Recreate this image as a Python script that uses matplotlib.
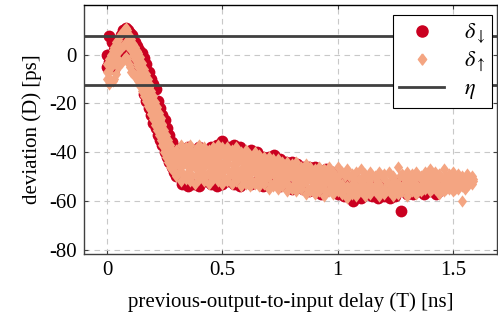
import matplotlib
matplotlib.use("Agg")
import matplotlib.pyplot as plt
from matplotlib.lines import Line2D

plt.rcParams['font.family'] = ['Liberation Serif', 'DejaVu Serif']
plt.rcParams['mathtext.fontset'] = 'stix'

red = '#ca0020'
salmon = '#f4a582'
dark = '#404040'

# delta down (red circles): start, descent, flat part
down_start_x = [0.000, 0.000, 0.010, 0.010, 0.020, 0.020, 0.030, 0.030, 0.040, 0.040,
                0.050, 0.050, 0.060, 0.060, 0.070, 0.070, 0.080, 0.080, 0.090, 0.090]
down_start_y = [-5, 0, 7.5, -3, 5, -1, 2, -6, 4, -4,
                6, -2, 8, 1, 10, 3, 11, 5, 10, 6]
down_fall_x = [0.100, 0.100, 0.110, 0.110, 0.120, 0.120, 0.130, 0.130, 0.140, 0.140,
               0.150, 0.150, 0.160, 0.160, 0.170, 0.170, 0.180, 0.180, 0.190, 0.190,
               0.200, 0.200, 0.210, 0.210, 0.220, 0.220, 0.230, 0.230, 0.240, 0.240,
               0.250, 0.250, 0.260, 0.260, 0.270, 0.270, 0.280, 0.280, 0.290, 0.290]
down_fall_y = [9, 3, 8, 1, 5, -2, 3.5, -5, 2, -8,
               0.5, -12, -1.5, -16, -4, -19, -7, -22, -10, -25,
               -12, -28, -14, -30, -19, -33, -22, -35, -25, -37,
               -27, -40, -30, -42, -33, -44, -36, -46, -38, -48]
down_flat_x = [0.300, 0.300, 0.325, 0.325, 0.350, 0.350, 0.375, 0.375, 0.400, 0.400,
               0.425, 0.425, 0.450, 0.450, 0.475, 0.475, 0.500, 0.500, 0.525, 0.525,
               0.550, 0.550, 0.575, 0.575, 0.600, 0.600, 0.625, 0.625, 0.650, 0.650,
               0.675, 0.675, 0.700, 0.700, 0.725, 0.725, 0.750, 0.750, 0.775, 0.775,
               0.800, 0.800, 0.825, 0.825, 0.850, 0.850, 0.875, 0.875, 0.900, 0.900,
               0.925, 0.925, 0.950, 0.950, 0.975, 0.975, 1.000, 1.000, 1.025, 1.025,
               1.050, 1.050, 1.065, 1.065, 1.075, 1.075, 1.100, 1.100, 1.125, 1.125,
               1.150, 1.150, 1.175, 1.175, 1.200, 1.200, 1.225, 1.225, 1.250, 1.250,
               1.275, 1.275, 1.300, 1.300, 1.325, 1.325, 1.350, 1.350, 1.375, 1.375,
               1.400, 1.400, 1.425, 1.425, 1.440, 1.440]
down_flat_y = [-40, -50, -39, -53, -38, -54, -39, -53, -38, -54,
               -39, -52, -38, -53, -37, -54, -35.5, -53, -38, -52,
               -37, -53, -38, -54, -40, -52, -39, -53, -40, -52,
               -42, -54, -42, -53, -41, -52, -43, -54, -44, -53,
               -44, -55, -45, -54, -46, -55, -46, -56, -46, -55,
               -48, -57, -47, -56, -48, -55, -48, -57, -50, -58,
               -51, -56, -52, -60, -51, -58, -52, -59, -52, -57,
               -53, -58, -53, -59, -54, -58, -54, -59, -52, -58,
               -53, -64, -53, -57, -54, -57, -54, -56, -54, -57,
               -54, -56, -54, -57, -55, -56]

# delta up (salmon diamonds): start blob
up_start_x = [0.000, 0.008, 0.016, 0.024, 0.032, 0.040, 0.048, 0.056, 0.064, 0.072,
              0.080, 0.088]
up_start_top = [-4, -2, 0, 2, 3, 5, 6, 8, 9, 10, 11, 10]
up_start_mid = [-7, -7, -5, -4, -3, -1, 1, 3, 3, 4, 5, 4]
up_start_bot = [-10, -12, -11, -11, -10, -8, -5, -3, -3, -2, -1, -2]

# descent: right edge, middle, left edge
up_fall_x = [0.096, 0.104, 0.112, 0.120, 0.128, 0.136, 0.144, 0.152, 0.160, 0.168,
             0.176, 0.184, 0.192, 0.200, 0.208, 0.216, 0.224, 0.232, 0.240, 0.248,
             0.256, 0.264, 0.272, 0.280, 0.288]
up_fall_top = [8, 6.5, 4.5, 3, 1.5, 0.5, -1, -3.5, -6, -8,
               -10, -12.5, -15, -17, -19.5, -21.5, -24, -26, -28.5, -31,
               -33, -35, -37, -39, -41]
up_fall_mid = [3.5, 2, 0, -2, -4, -5, -7, -9, -11, -13,
               -15, -17, -20, -22, -24, -26, -28, -30, -33, -35,
               -37, -39, -41, -43, -44]
up_fall_bot = [-4, -7, -8, -9, -10, -11, -13, -15, -17, -19,
               -21, -22.5, -24.5, -26.5, -29, -31, -33, -35, -37, -40,
               -42, -44, -46, -47, -48]
up_fall_x2 = [0.100, 0.108, 0.116, 0.124, 0.132, 0.140, 0.148, 0.156, 0.164, 0.172,
              0.180, 0.188, 0.196, 0.204, 0.212, 0.220, 0.228, 0.236, 0.244, 0.252,
              0.260, 0.268, 0.276, 0.284, 0.292]
up_fall_hi = [5, 3, 1.5, 0, -2, -3, -5, -7, -9.5, -11.5,
              -13.5, -16, -18.5, -20.5, -22.5, -25, -27, -29, -32, -34,
              -36, -38, -40, -41.5, -43]
up_fall_lo = [-5, -7, -8, -9, -10, -11, -11, -13, -15, -17,
              -19, -21, -23, -25.5, -27.5, -29.5, -31.5, -34, -36, -38.5,
              -40.5, -42.5, -44, -45.5, -46]

# flat part, interleaved sets of samples
up_flat_x = [0.30, 0.32, 0.34, 0.36, 0.38, 0.40, 0.42, 0.44, 0.46, 0.48,
             0.50, 0.52, 0.54, 0.56, 0.58, 0.60, 0.62, 0.64, 0.66, 0.68,
             0.70, 0.72, 0.74, 0.76, 0.78, 0.80, 0.82, 0.84, 0.86, 0.88,
             0.90, 0.92, 0.94, 0.96, 0.98, 1.00, 1.02, 1.04, 1.06, 1.08,
             1.10, 1.12, 1.14, 1.16, 1.18, 1.20, 1.22, 1.24, 1.26, 1.28,
             1.30, 1.32, 1.34, 1.36, 1.38, 1.40, 1.42, 1.44, 1.46, 1.48,
             1.50, 1.52, 1.54, 1.56, 1.58]
up_flat_top = [-39, -37, -38, -37, -39, -37, -38, -39, -38, -37,
               -38, -38, -39, -38, -40, -39, -41, -40, -41, -42,
               -42, -43, -43, -44, -44, -45, -44, -46, -45, -46,
               -47, -46, -47, -46, -48, -46, -48, -47, -49, -48,
               -47, -49, -48, -50, -48, -49, -48, -50, -46, -49,
               -48, -49, -48, -50, -48, -47, -48, -49, -47, -49,
               -48, -49, -50, -49, -50]
up_flat_mid = [-45, -46, -45, -47, -46, -47, -46, -48, -47, -46,
               -48, -47, -48, -47, -49, -48, -49, -48, -50, -49,
               -50, -49, -51, -50, -51, -50, -52, -51, -52, -51,
               -53, -52, -53, -52, -54, -52, -53, -54, -53, -54,
               -52, -54, -53, -54, -53, -55, -53, -54, -53, -54,
               -53, -52, -53, -54, -52, -53, -52, -54, -53, -52,
               -53, -52, -54, -52, -52]
up_flat_bot = [-50, -52, -51, -52, -53, -51, -52, -53, -51, -52,
               -53, -52, -53, -52, -54, -53, -54, -53, -54, -53,
               -55, -54, -55, -54, -56, -55, -56, -55, -57, -56,
               -57, -56, -58, -56, -57, -56, -57, -59, -57, -58,
               -56, -58, -57, -56, -58, -57, -56, -58, -57, -56,
               -58, -56, -57, -56, -55, -56, -55, -57, -56, -55,
               -56, -55, -60, -54, -53]
up_flat_x2 = [0.31, 0.33, 0.35, 0.37, 0.39, 0.41, 0.43, 0.45, 0.47, 0.49,
              0.51, 0.53, 0.55, 0.57, 0.59, 0.61, 0.63, 0.65, 0.67, 0.69,
              0.71, 0.73, 0.75, 0.77, 0.79, 0.81, 0.83, 0.85, 0.87, 0.89,
              0.91, 0.93, 0.95, 0.97, 0.99, 1.01, 1.03, 1.05, 1.07, 1.09,
              1.11, 1.13, 1.15, 1.17, 1.19, 1.21, 1.23, 1.25, 1.27, 1.29,
              1.31, 1.33, 1.35, 1.37, 1.39, 1.41, 1.43, 1.45, 1.47, 1.49,
              1.51, 1.53, 1.55, 1.57, 1.585]
up_flat_hi = [-41, -42, -41, -42, -42, -41, -42, -43, -42, -41,
              -42, -42, -43, -42, -44, -43, -44, -44, -45, -45,
              -46, -46, -47, -47, -48, -47, -48, -49, -49, -49,
              -50, -49, -50, -49, -51, -49, -50, -50, -51, -51,
              -50, -51, -50, -52, -50, -52, -50, -52, -50, -51,
              -50, -51, -50, -52, -50, -50, -50, -51, -50, -51,
              -50, -51, -52, -51, -51]
up_flat_lo = [-48, -49, -48, -50, -49, -49, -50, -50, -49, -49,
              -51, -50, -50, -50, -51, -50, -52, -51, -52, -51,
              -53, -52, -53, -52, -54, -53, -54, -53, -55, -54,
              -55, -54, -56, -54, -55, -54, -55, -56, -55, -56,
              -54, -56, -55, -55, -56, -56, -55, -56, -55, -55,
              -55, -54, -55, -55, -54, -55, -54, -55, -55, -54,
              -55, -53, -55, -53, -52]
# wider part of the band (0.3 to 1.0) needs two more rows
up_wide_x = [0.305, 0.325, 0.345, 0.365, 0.385, 0.405, 0.425, 0.445, 0.465, 0.485,
             0.505, 0.525, 0.545, 0.565, 0.585, 0.605, 0.625, 0.645, 0.665, 0.685,
             0.705, 0.725, 0.745, 0.765, 0.785, 0.805, 0.825, 0.845, 0.865, 0.885,
             0.905, 0.925, 0.945, 0.965, 0.985]
up_wide_a = [-40, -39.5, -39.5, -39.5, -40.5, -39, -40, -41, -40, -39,
             -40, -40, -41, -40, -42, -41, -42.5, -42, -43, -43.5,
             -44, -44.5, -45, -45.5, -46, -46, -46, -47.5, -47, -47.5,
             -48.5, -47.5, -48.5, -47.5, -49.5]
up_wide_b = [-43, -44, -43, -44.5, -44, -44, -44, -45.5, -44.5, -43.5,
             -45, -44.5, -45.5, -44.5, -46.5, -45.5, -46.5, -46, -47.5, -47,
             -48, -47.5, -49, -48.5, -49.5, -48.5, -50, -50, -50.5, -50,
             -51.5, -50.5, -51.5, -50.5, -52.5]

eta_levels = [7.5, -12.5]

xticks = [0, 0.5, 1, 1.5]
xtick_labels = ['0', '0.5', '1', '1.5']
yticks = [-80, -60, -40, -20, 0]
ytick_labels = ['-80', '-60', '-40', '-20', '0']

down_x = down_start_x + down_fall_x + down_flat_x
down_y = down_start_y + down_fall_y + down_flat_y
up_x = (up_start_x * 3 + up_fall_x * 3 + up_fall_x2 * 2
        + up_flat_x * 3 + up_flat_x2 * 2 + up_wide_x * 2)
up_y = (up_start_top + up_start_mid + up_start_bot
        + up_fall_top + up_fall_mid + up_fall_bot + up_fall_hi + up_fall_lo
        + up_flat_top + up_flat_mid + up_flat_bot + up_flat_hi + up_flat_lo
        + up_wide_a + up_wide_b)

diamond = [(0, 1), (0.75, 0), (0, -1), (-0.75, 0), (0, 1)]

fig = plt.figure(figsize=(4.98, 3.15), dpi=100)
ax = fig.add_axes([0.1687, 0.1937, 0.8293, 0.7903])

ax.scatter(down_x, down_y, s=72, marker='o', color=red, linewidths=0, zorder=3)
ax.scatter(up_x, up_y, s=78, marker=diamond, color=salmon, linewidths=0, zorder=4)
for lvl in eta_levels:
    ax.axhline(lvl, color=dark, lw=2.0, zorder=5)

ax.set_xlim(-0.1, 1.69)
ax.set_ylim(-81.8, 20.3)
ax.set_xticks(xticks)
ax.set_xticklabels(xtick_labels)
ax.set_yticks(yticks)
ax.set_yticklabels(ytick_labels)
ax.grid(True, color='#c8c8c8', linestyle=(0, (5, 4)), lw=0.8, zorder=0)
ax.tick_params(direction='in', length=3, width=0.8, color=dark, labelsize=15,
               top=True, right=True, pad=5)
for sp in ax.spines.values():
    sp.set_color(dark)
    sp.set_linewidth(1.0)
ax.spines['top'].set_color('black')

ax.set_xlabel('previous-output-to-input delay (T) [ns]', fontsize=15, labelpad=9)
ax.set_ylabel('deviation (D) [ps]', fontsize=15, labelpad=5)

handles = [
    Line2D([], [], linestyle='none', marker='o', markersize=8, color=red),
    Line2D([], [], linestyle='none', marker=diamond, markersize=8, color=salmon),
    Line2D([], [], color=dark, lw=2.0),
]
labels = [r'$\delta_\downarrow$', r'$\delta_\uparrow$', r'$\eta$']
leg = ax.legend(handles, labels, loc='upper right', bbox_to_anchor=(0.988, 0.960),
                borderaxespad=0, fancybox=False, framealpha=1, edgecolor='black',
                fontsize=16, handlelength=2.0, labelspacing=0.2, borderpad=0.3,
                handletextpad=0.9)
leg.get_frame().set_linewidth(0.8)
leg.set_zorder(6)

fig.savefig('out.png', dpi=100)
